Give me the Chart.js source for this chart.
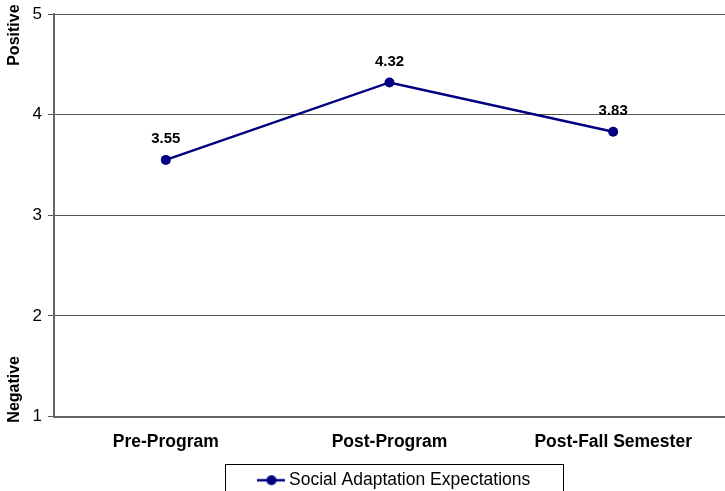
<!DOCTYPE html>
<html>
<head>
<meta charset="utf-8">
<script src="https://cdn.jsdelivr.net/npm/chart.js@4/dist/chart.umd.min.js"></script>
<style>
  html, body { margin: 0; padding: 0; background: #fff; }
  #wrap { width: 725px; height: 491px; }
</style>
</head>
<body>
<div id="wrap"><canvas id="chart" width="725" height="491"></canvas></div>
<script>
const categories = ["Pre-Program", "Post-Program", "Post-Fall Semester"];
const seriesName = "Social Adaptation Expectations";
const seriesValues = [3.55, 4.32, 3.83];
const yTicks = [1, 2, 3, 4, 5];
const scaleEnds = { top: "Positive", bottom: "Negative" };

const FONT = "'Liberation Sans', Arial, sans-serif";
const NAVY = "#000080";

// little line-with-dot marker for the legend entry
function legendMarker() {
  const c = document.createElement("canvas");
  c.width = 28;
  c.height = 12;
  const g = c.getContext("2d");
  g.strokeStyle = NAVY;
  g.lineWidth = 2.5;
  g.beginPath();
  g.moveTo(0, 6);
  g.lineTo(28, 6);
  g.stroke();
  g.fillStyle = NAVY;
  g.beginPath();
  g.arc(14, 6, 5, 0, Math.PI * 2);
  g.fill();
  return c;
}

// value labels above each point
const valueLabels = {
  id: "valueLabels",
  afterDatasetsDraw(chart) {
    const ctx = chart.ctx;
    const meta = chart.getDatasetMeta(0);
    ctx.save();
    ctx.font = "bold 15px " + FONT;
    ctx.fillStyle = "#000";
    ctx.textAlign = "center";
    ctx.textBaseline = "middle";
    meta.data.forEach((pt, i) => {
      ctx.fillText(seriesValues[i].toFixed(2), pt.x, pt.y - 21);
    });
    ctx.restore();
  },
};

function sideText(ctx, text, x, y) {
  ctx.save();
  ctx.font = "bold 16px " + FONT;
  ctx.fillStyle = "#000";
  ctx.textBaseline = "middle";
  ctx.textAlign = "center";
  ctx.translate(x, y);
  ctx.rotate(-Math.PI / 2);
  ctx.fillText(text, 0, 0);
  ctx.restore();
}

// "Positive" / "Negative" beside the y axis, plus the legend frame
const sideNotes = {
  id: "sideNotes",
  afterLayout(chart) {
    // legend entry sits a bit right of the plot centre
    chart.legend.left += 7;
    chart.legend.right += 7;
  },
  afterDraw(chart) {
    const ctx = chart.ctx;
    const y = chart.scales.y;
    sideText(ctx, scaleEnds.top, 15, y.getPixelForValue(4.79));
    sideText(ctx, scaleEnds.bottom, 15, y.getPixelForValue(1.27));

    ctx.save();
    ctx.strokeStyle = "#000";
    ctx.lineWidth = 1;
    ctx.strokeRect(225.5, 464.5, 338, 40);
    ctx.restore();
  },
};

new Chart(document.getElementById("chart"), {
  type: "line",
  data: {
    labels: categories,
    datasets: [
      {
        label: seriesName,
        data: seriesValues,
        borderColor: NAVY,
        backgroundColor: NAVY,
        borderWidth: 2.5,
        pointRadius: 5,
        pointHoverRadius: 5,
        pointBackgroundColor: NAVY,
        pointBorderWidth: 0,
        tension: 0,
      },
    ],
  },
  options: {
    responsive: false,
    animation: false,
    layout: {
      autoPadding: false,
      padding: { top: 14, right: 0, left: 0, bottom: -8 },
    },
    plugins: {
      tooltip: { enabled: false },
      legend: {
        position: "bottom",
        fullSize: false,
        labels: {
          usePointStyle: true,
          pointStyle: legendMarker(),
          color: "#000",
          font: { family: FONT, size: 17.5 },
          padding: 4,
        },
      },
    },
    scales: {
      x: {
        offset: true,
        afterFit(scale) {
          scale.paddingLeft = 0;
          scale.paddingRight = 0;
        },
        grid: { display: false, drawTicks: false },
        border: { color: "#666", width: 2 },
        ticks: {
          color: "#000",
          font: { family: FONT, size: 17.5, weight: "bold" },
          padding: 15,
          maxRotation: 0,
        },
      },
      y: {
        min: 1,
        max: 5,
        afterFit(scale) {
          scale.width = 54;
          scale.paddingTop = 0;
          scale.paddingBottom = 0;
        },
        afterBuildTicks(scale) {
          scale.ticks = yTicks.map((v) => ({ value: v }));
        },
        grid: {
          color: "#555",
          lineWidth: 1,
          tickLength: 6,
          tickColor: "#555",
        },
        border: { color: "#666", width: 2 },
        ticks: {
          color: "#000",
          font: { family: FONT, size: 17 },
          padding: 6,
        },
      },
    },
  },
  plugins: [valueLabels, sideNotes],
});
</script>
</body>
</html>
